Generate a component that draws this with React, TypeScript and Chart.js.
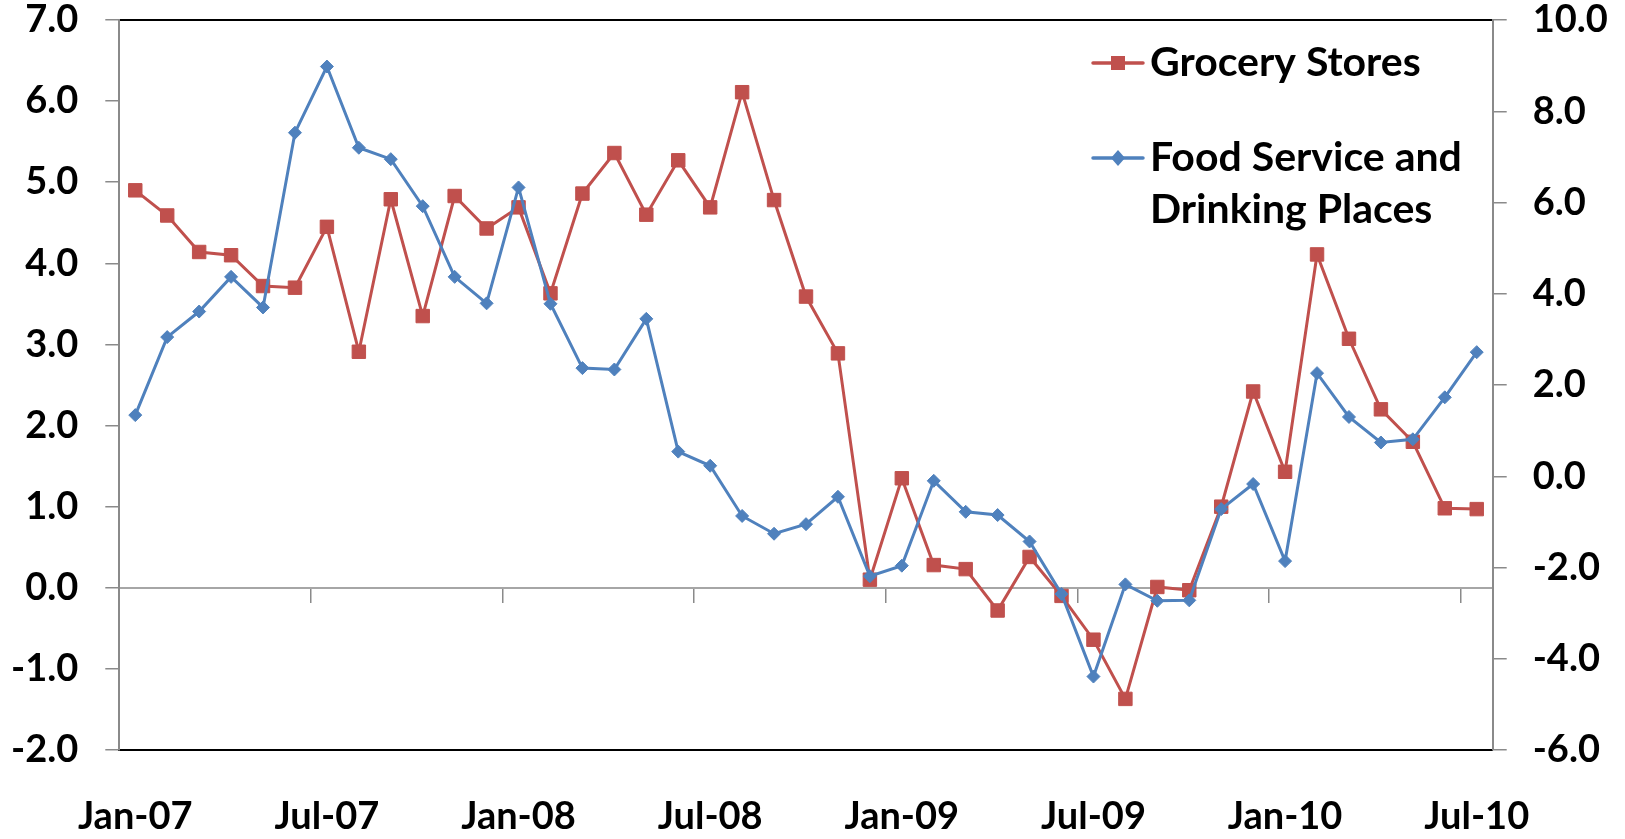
import React, { useEffect, useRef } from "react";
import { Chart, registerables } from "chart.js";

Chart.register(...registerables);

const MONTHS = ["Jan", "Feb", "Mar", "Apr", "May", "Jun", "Jul", "Aug", "Sep", "Oct", "Nov", "Dec"];
const YEARS = ["07", "08", "09", "10"];
const CATEGORIES: string[] = [];
YEARS.forEach((y) => MONTHS.forEach((m) => CATEGORIES.push(`${m}-${y}`)));
CATEGORIES.splice(43); // Jan-07 .. Jul-10

const GROCERY = [
  4.9, 4.59, 4.14, 4.1, 3.72, 3.7, 4.45, 2.91, 4.79, 3.35, 4.83, 4.43,
  4.69, 3.63, 4.86, 5.36, 4.6, 5.27, 4.69, 6.11, 4.78, 3.59, 2.89, 0.1,
  1.35, 0.28, 0.23, -0.28, 0.38, -0.1, -0.64, -1.37, 0.01, -0.03, 1.0, 2.42,
  1.43, 4.11, 3.07, 2.2, 1.8, 0.98, 0.97,
];

const FOOD_SERVICE = [
  1.34, 3.05, 3.61, 4.37, 3.7, 7.53, 8.98, 7.2, 6.95, 5.92, 4.37, 3.79,
  6.33, 3.78, 2.37, 2.34, 3.45, 0.54, 0.23, -0.87, -1.26, -1.05, -0.45, -2.19,
  -1.96, -0.1, -0.78, -0.85, -1.43, -2.58, -4.39, -2.37, -2.73, -2.72, -0.72, -0.17,
  -1.86, 2.26, 1.3, 0.74, 0.81, 1.73, 2.72,
];

const LEFT_TICKS = { min: -2, max: 7, step: 1 };
const RIGHT_TICKS = { min: -6, max: 10, step: 2 };
const LABEL_EVERY = 6;

const SERIES_NAMES = ["Grocery Stores", ["Food Service and", "Drinking Places"]];

const RED = "#C0504D";
const BLUE = "#4F81BD";
const AXIS_GRAY = "#8a8a8a";
const FONT_FAMILY = "Lato, 'Open Sans', sans-serif";

function makeLegendIcon(color: string, kind: "square" | "diamond"): HTMLCanvasElement {
  const c = document.createElement("canvas");
  c.width = 54;
  c.height = 18;
  const g = c.getContext("2d")!;
  g.strokeStyle = color;
  g.lineWidth = 3.5;
  g.lineCap = "round";
  g.beginPath();
  g.moveTo(2, 9);
  g.lineTo(52, 9);
  g.stroke();
  g.fillStyle = color;
  if (kind === "square") {
    g.fillRect(27 - 7, 9 - 7, 14, 14);
  } else {
    g.beginPath();
    g.moveTo(27 - 7, 9);
    g.lineTo(27, 9 - 8);
    g.lineTo(27 + 7, 9);
    g.lineTo(27, 9 + 8);
    g.closePath();
    g.fill();
  }
  return c;
}

export default function App() {
  const canvasRef = useRef<HTMLCanvasElement | null>(null);

  useEffect(() => {
    const canvas = canvasRef.current;
    if (!canvas) return;

    const redIcon = makeLegendIcon(RED, "square");
    const blueIcon = makeLegendIcon(BLUE, "diamond");

    const legendPlacer = {
      id: "legendPlacer",
      afterLayout(chart: any) {
        const lg = chart.legend;
        if (!lg) return;
        lg.left = 1052.5;
        lg.top = -11.5;
        lg.right = chart.width;
        lg.bottom = chart.height;
      },
    };

    const tickFont = { family: FONT_FAMILY, size: 38, weight: "bold" as const };

    const chart = new Chart(canvas, {
      type: "line",
      data: {
        labels: CATEGORIES,
        datasets: [
          {
            label: "Food Service and Drinking Places",
            data: FOOD_SERVICE,
            yAxisID: "y1",
            xAxisID: "x",
            borderColor: BLUE,
            backgroundColor: BLUE,
            borderWidth: 3,
            pointStyle: "rectRot",
            pointRadius: 6.5,
            pointBorderWidth: 1,
            pointBackgroundColor: BLUE,
            pointBorderColor: BLUE,
            tension: 0,
          },
          {
            label: "Grocery Stores",
            data: GROCERY,
            yAxisID: "y",
            xAxisID: "x",
            borderColor: RED,
            backgroundColor: RED,
            borderWidth: 3,
            pointStyle: "rect",
            pointRadius: 9.5,
            pointBorderWidth: 1,
            pointBackgroundColor: RED,
            pointBorderColor: RED,
            tension: 0,
          },
        ],
      },
      options: {
        responsive: false,
        animation: false,
        events: [],
        layout: { padding: 0 },
        plugins: {
          tooltip: { enabled: false },
          legend: {
            display: true,
            position: "chartArea",
            align: "start",
            labels: {
              usePointStyle: true,
              pointStyleWidth: 23,
              padding: 54,
              color: "#000",
              font: { family: FONT_FAMILY, size: 41, weight: "bold", lineHeight: 1.27 },
              generateLabels: () => [
                {
                  text: SERIES_NAMES[0] as any,
                  pointStyle: redIcon as any,
                  fillStyle: RED,
                  strokeStyle: RED,
                  lineWidth: 0,
                  hidden: false,
                  fontColor: "#000",
                  datasetIndex: 1,
                },
                {
                  text: SERIES_NAMES[1] as any,
                  pointStyle: blueIcon as any,
                  fillStyle: BLUE,
                  strokeStyle: BLUE,
                  lineWidth: 0,
                  hidden: false,
                  fontColor: "#000",
                  datasetIndex: 0,
                },
              ],
            },
          },
        },
        scales: {
          x: {
            type: "category",
            position: "bottom",
            offset: true,
            grid: { display: false, drawTicks: false, tickLength: 0 },
            border: { display: true, color: "#000", width: 2 },
            ticks: {
              autoSkip: false,
              maxRotation: 0,
              minRotation: 0,
              padding: 44,
              color: "#000",
              font: tickFont,
              callback: (_v: any, i: number) => (i % LABEL_EVERY === 0 ? CATEGORIES[i] : ""),
            },
            afterFit: (s: any) => {
              s.height = 89;
              s.paddingLeft = 0;
              s.paddingRight = 0;
            },
          },
          xTop: {
            type: "category",
            position: "top",
            offset: true,
            grid: { display: false, drawTicks: false, tickLength: 0 },
            border: { display: true, color: "#000", width: 2 },
            ticks: { display: false },
            afterFit: (s: any) => {
              s.height = 20;
            },
          },
          xZero: {
            type: "category",
            position: { y: 0 } as any,
            offset: true,
            grid: {
              display: true,
              offset: true,
              drawOnChartArea: false,
              drawTicks: true,
              tickLength: 14,
              lineWidth: 1.5,
              color: (ctx: any) =>
                ctx.index > 0 && ctx.index % LABEL_EVERY === 0 ? AXIS_GRAY : "rgba(0,0,0,0)",
            },
            border: { display: true, color: "#a6a6a6", width: 2 },
            ticks: { display: false },
          },
          y: {
            type: "linear",
            position: "left",
            min: LEFT_TICKS.min,
            max: LEFT_TICKS.max,
            grid: {
              display: true,
              drawOnChartArea: false,
              drawTicks: true,
              tickLength: 14,
              lineWidth: 1.5,
              color: AXIS_GRAY,
            },
            border: { display: true, color: AXIS_GRAY, width: 2 },
            ticks: {
              stepSize: LEFT_TICKS.step,
              padding: 27,
              color: "#000",
              font: tickFont,
              callback: (v: any) => Number(v).toFixed(1),
            },
            afterFit: (s: any) => {
              s.width = 119.3;
              s.paddingTop = 0;
              s.paddingBottom = 0;
            },
          },
          y1: {
            type: "linear",
            position: "right",
            min: RIGHT_TICKS.min,
            max: RIGHT_TICKS.max,
            grid: {
              display: true,
              drawOnChartArea: false,
              drawTicks: true,
              tickLength: 14,
              lineWidth: 1.5,
              color: AXIS_GRAY,
            },
            border: { display: true, color: AXIS_GRAY, width: 2 },
            ticks: {
              stepSize: RIGHT_TICKS.step,
              padding: 26,
              color: "#000",
              font: tickFont,
              callback: (v: any) => Number(v).toFixed(1),
            },
            afterFit: (s: any) => {
              s.width = 132.3;
              s.paddingTop = 0;
              s.paddingBottom = 0;
            },
          },
        },
      },
      plugins: [legendPlacer],
    });

    return () => {
      chart.destroy();
    };
  }, []);

  return (
    <div style={{ position: "absolute", left: 0, top: 0, width: 1625, height: 839, background: "#fff" }}>
      <canvas ref={canvasRef} width={1625} height={839} style={{ display: "block" }} />
    </div>
  );
}
